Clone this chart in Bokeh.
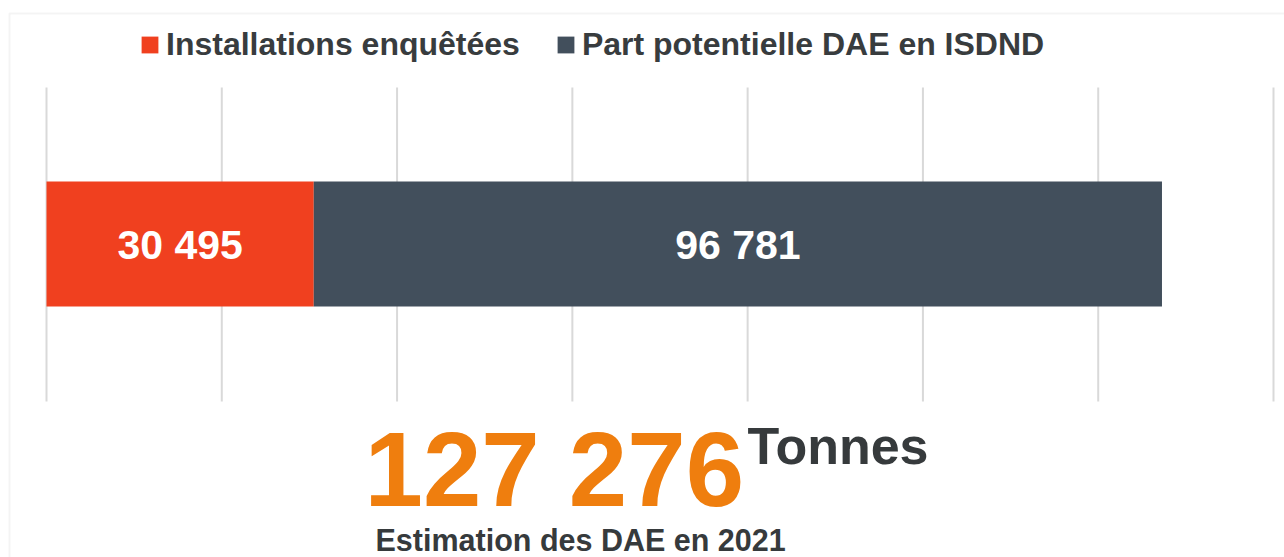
from bokeh.plotting import figure
from bokeh.models import (ColumnDataSource, Range1d, Legend, LegendItem,
                          LabelSet, Label, BoxAnnotation)
from bokeh.core.properties import value
from bokeh.embed import file_html
from bokeh.resources import INLINE

categories = ["2021"]
series_names = ["Installations enquêtées", "Part potentielle DAE en ISDND"]
installations = [30495]
part_potentielle = [96781]
colors = ["#F0401F", "#424F5C"]
grid_ticks = [0, 20000, 40000, 60000, 80000, 100000, 120000, 140000]
unit_label = "Tonnes"
subtitle = "Estimation des DAE en 2021"

def fmt(v):
    return f"{v:,}".replace(",", " ")

W, H = 1284, 557
X0_PX, XMAX_PX = 46, 1273
BAR_CY, BAR_H = 243.5, 125
GRID_TOP, GRID_BOT = 87, 401
FONT = "Liberation Sans"

s = (XMAX_PX - X0_PX) / grid_ticks[-1]
x_range = Range1d(-X0_PX / s, (W - X0_PX) / s)
y_range = Range1d(-(H - BAR_CY) / BAR_H, BAR_CY / BAR_H)

ypos = [0.0]
src = ColumnDataSource(dict(y=ypos, a=installations, b=part_potentielle))

p = figure(width=W, height=H, output_backend="svg", toolbar_location=None,
           x_range=x_range, y_range=y_range,
           min_border_left=0, min_border_right=0, min_border_top=0, min_border_bottom=0)
p.xaxis.visible = False
p.yaxis.visible = False
p.grid.visible = False
p.outline_line_color = None
p.background_fill_color = "white"
p.border_fill_color = "white"

g_top = (BAR_CY - GRID_TOP) / BAR_H
g_bot = -(GRID_BOT - BAR_CY) / BAR_H
p.segment(x0=grid_ticks, x1=grid_ticks, y0=[g_bot] * len(grid_ticks), y1=[g_top] * len(grid_ticks),
          line_color="#d9d9d9", line_width=2)

rs = p.hbar_stack(["a", "b"], y="y", height=1.0, color=colors, source=src, line_color=None)

mids, texts = [], []
acc = 0
for v in [installations[0], part_potentielle[0]]:
    mids.append(acc + v / 2)
    texts.append(fmt(v))
    acc += v
lab_src = ColumnDataSource(dict(x=mids, y=ypos * 2, t=texts))
p.add_layout(LabelSet(x="x", y="y", text="t", source=lab_src, text_align="center",
                      text_baseline="middle", text_color="white", text_font_size="41px",
                      text_font_style="bold", text_font=value(FONT), y_offset=-1))

legend = Legend(items=[LegendItem(label=series_names[0], renderers=[rs[0]]),
                       LegendItem(label=series_names[1], renderers=[rs[1]])],
                orientation="horizontal", location=(139, 494),
                glyph_width=21, glyph_height=21, label_standoff=6, spacing=35,
                padding=0, margin=0, border_line_color=None, background_fill_alpha=0,
                label_text_font=FONT, label_text_font_style="bold",
                label_text_font_size="32px", label_text_color="#383c3e")
p.add_layout(legend, "center")

p.add_layout(BoxAnnotation(left=9, right=W + 50, top=H - 13, bottom=-50,
                           left_units="screen", right_units="screen",
                           top_units="screen", bottom_units="screen",
                           fill_alpha=0, line_color="#dcdcdc", line_width=2, level="underlay"))

total = installations[0] + part_potentielle[0]
p.add_layout(Label(x=364, y=H - 469.2, x_units="screen", y_units="screen", text=fmt(total),
                   text_font=FONT, text_font_style="bold",
                   text_font_size="105px", text_color="#EF7E0E", text_baseline="middle"))
p.add_layout(Label(x=747, y=H - 445.5, x_units="screen", y_units="screen", text=unit_label,
                   text_font=FONT, text_font_style="bold",
                   text_font_size="52px", text_color="#363a3c", text_baseline="middle"))
p.add_layout(Label(x=375, y=H - 539, x_units="screen", y_units="screen", text=subtitle,
                   text_font=FONT, text_font_style="bold",
                   text_font_size="30.5px", text_color="#363a3c", text_baseline="middle"))

open("out.html", "w").write(file_html(p, INLINE))
